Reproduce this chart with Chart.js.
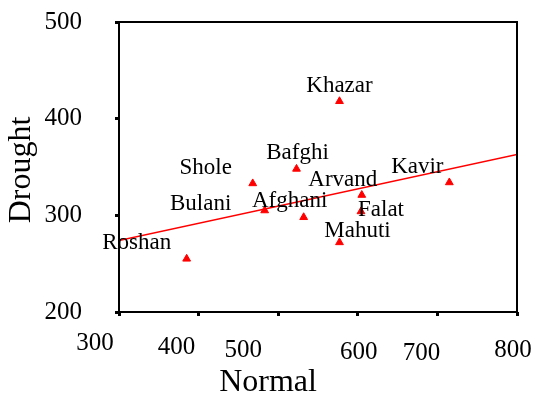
<!DOCTYPE html>
<html>
<head>
    <title>Drought vs Normal</title>
    <script src="https://cdn.jsdelivr.net/npm/chart.js@4/dist/chart.umd.min.js"></script>
    <style>
        body { margin: 0; background: #fff; }
    </style>
</head>
<body>
    <canvas id="scatterChart" width="535" height="400"></canvas>
    <script type="text/javascript">
    // data
    var names = ["Khazar", "Bafghi", "Shole", "Bulani", "Afghani", "Roshan", "Mahuti", "Arvand", "Falat", "Kavir"];
    var normalVals = [577, 523, 468, 483, 532, 385, 577, 605, 604, 715];
    var droughtVals = [418, 348, 333, 305, 298, 255, 272, 321, 304, 334];
    // fitted line, ends at the axis limits
    var fitX = [300, 800];
    var fitY = [274, 363];
    var xTicks = [300, 400, 500, 600, 700, 800];

    // label placement (pixels, relative to the marker / tick)
    var labelOffsets = [[0, -15], [1, -16], [-47, -15], [-64, -7], [-14, -16], [-50, -16], [18, -11], [-19, -15], [20, -2], [-32, -16]];
    var xTickOffsets = [[-24, 31], [-22, 35], [-35, 38], [1, 40], [-16, 41], [-4, 38]];

    var serif = "'Liberation Serif', 'Times New Roman', serif";

    var points = [];
    for (var i = 0; i < names.length; i++) {
        points.push({x: normalVals[i], y: droughtVals[i]});
    }
    var fitLine = [];
    for (var j = 0; j < fitX.length; j++) {
        fitLine.push({x: fitX[j], y: fitY[j]});
    }

    //labels, frame, x tick labels and axis titles
    var extras = {
        id: 'extras',
        afterDraw: function(chart) {
            var ctx = chart.ctx;
            var area = chart.chartArea;
            var xs = chart.scales.x;
            ctx.save();
            ctx.strokeStyle = '#000';
            ctx.lineWidth = 2;
            ctx.strokeRect(area.left, area.top, area.right - area.left, area.bottom - area.top);

            ctx.fillStyle = '#000';
            ctx.textAlign = 'center';
            ctx.textBaseline = 'middle';
            ctx.font = "23px " + serif;
            var meta = chart.getDatasetMeta(0);
            meta.data.forEach(function(pt, k) {
                ctx.fillText(names[k], pt.x + labelOffsets[k][0], pt.y + labelOffsets[k][1]);
            });

            ctx.font = "25px " + serif;
            xTicks.forEach(function(v, k) {
                ctx.fillText(String(v), xs.getPixelForValue(v) + xTickOffsets[k][0], area.bottom + xTickOffsets[k][1]);
            });

            ctx.font = "32px " + serif;
            ctx.fillText("Normal", 268, 383);
            ctx.translate(22, 170);
            ctx.rotate(-Math.PI / 2);
            ctx.fillText("Drought", 0, 0);
            ctx.restore();
        }
    };

    var ctx = document.getElementById("scatterChart");
    var myChart = new Chart(ctx, {
        type: 'scatter',
        data: {
            datasets: [{
                data: points,
                pointStyle: 'triangle',
                pointRadius: 4.5,
                backgroundColor: '#ff0000',
                borderColor: '#ff0000',
                borderWidth: 1
            }, {
                data: fitLine,
                showLine: true,
                pointRadius: 0,
                borderColor: '#ff0000',
                borderWidth: 1.5
            }]
        },
        options: {
            responsive: false,
            animation: false,
            layout: {
                padding: {top: 22, right: 18, left: 0, bottom: 0}
            },
            plugins: {
                legend: {display: false},
                tooltip: {enabled: false}
            },
            scales: {
                x: {
                    type: 'linear',
                    min: 300,
                    max: 800,
                    ticks: {display: false, stepSize: 100},
                    grid: {drawOnChartArea: false, tickLength: 4, tickWidth: 3, tickColor: '#000'},
                    border: {display: false},
                    afterFit: function(scale) {
                        scale.height = 88;
                        scale.paddingLeft = 0;
                        scale.paddingRight = 0;
                    }
                },
                y: {
                    min: 200,
                    max: 500,
                    ticks: {stepSize: 100, padding: 33, color: '#000', font: {family: serif, size: 25}},
                    grid: {drawOnChartArea: false, tickLength: 4, tickWidth: 3, tickColor: '#000'},
                    border: {display: false},
                    afterFit: function(scale) {
                        scale.width = 119;
                        scale.paddingTop = 0;
                        scale.paddingBottom = 0;
                    }
                }
            }
        },
        plugins: [extras]
    });
    </script>
</body>
</html>
